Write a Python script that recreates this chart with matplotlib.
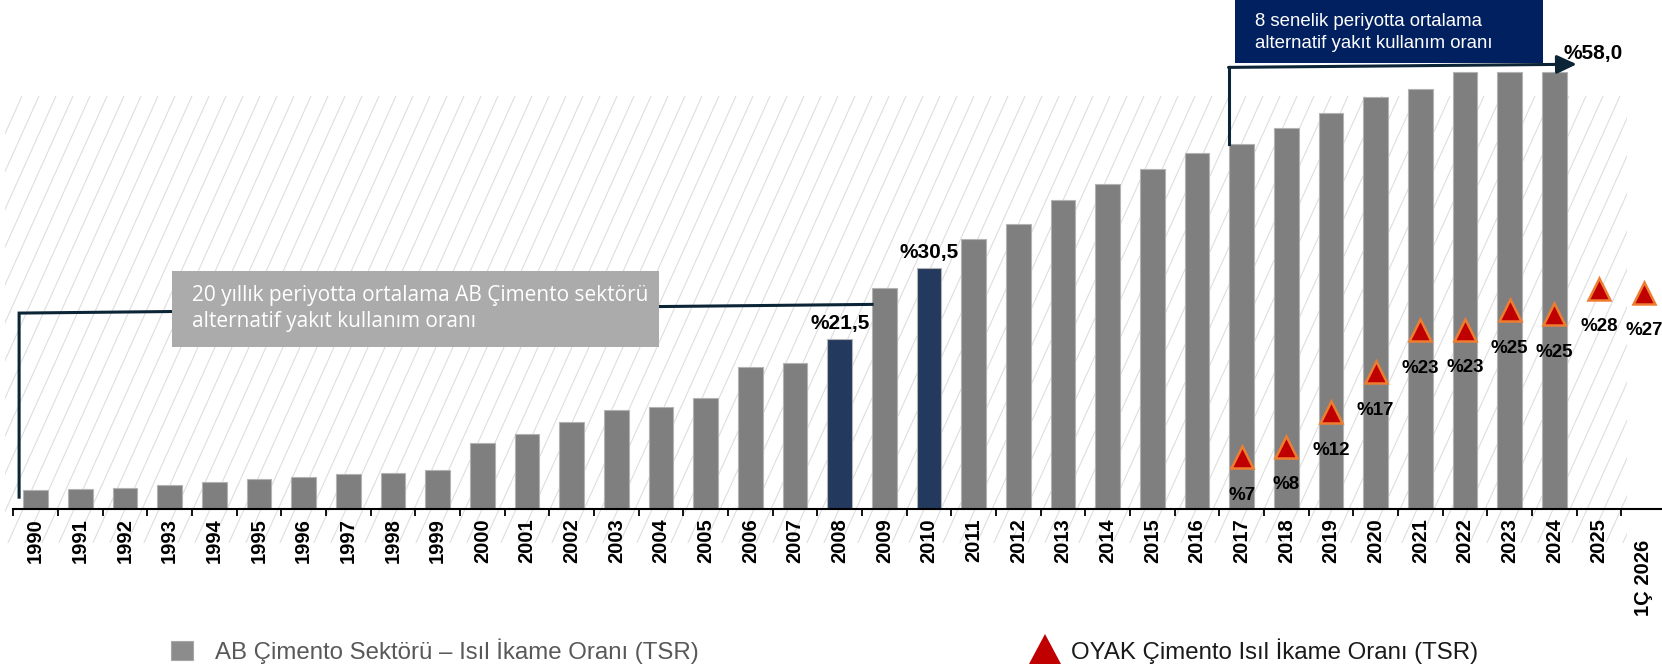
import numpy as np
import matplotlib
matplotlib.use("Agg")
import matplotlib.pyplot as plt
from matplotlib.patches import Rectangle, Polygon
from matplotlib.collections import LineCollection
from matplotlib.transforms import ScaledTranslation

plt.rcParams["font.family"] = ["Liberation Sans", "DejaVu Sans"]

# --- data -----------------------------------------------------------------
years = [str(y) for y in range(1990, 2026)] + ["1Ç 2026"]

# AB cement sector thermal substitution rate (%), 1990-2024
ab_tsr = [2.4, 2.5, 2.7, 3.1, 3.4, 3.8, 4.1, 4.4, 4.6, 4.9,
          8.4, 9.5, 11.0, 12.5, 12.9, 14.0, 18.0, 18.5, 21.5, 28.0,
          30.5, 34.2, 36.1, 39.1, 41.1, 43.1, 45.1, 46.2, 48.2, 50.1,
          52.2, 53.2, 55.3, 55.3, 55.3]
highlight_years = ["2008", "2010"]

# OYAK cement thermal substitution rate (%), 2017 - 1Q 2026
oyak_years = ["2017", "2018", "2019", "2020", "2021", "2022", "2023", "2024", "2025", "1Ç 2026"]
oyak_tsr = [6.6, 7.9, 12.3, 17.3, 22.6, 22.7, 25.2, 24.7, 27.9, 27.4]

avg_8y = 58.0

W, H = 1662, 667
fig = plt.figure(figsize=(W / 100, H / 100), dpi=100)

# background hatch (pixel coordinates)
bg = fig.add_axes([0, 0, 1, 1], zorder=0)
bg.set_xlim(0, W)
bg.set_ylim(H, 0)
bg.axis("off")
hx0, hx1, hy0, hy1 = 5, 1627, 96, 543
lean = (hy1 - hy0) * 0.45
segs = [[(x, hy1), (x + lean, hy0)] for x in np.arange(hx0 - lean, hx1 + 17, 17)]
lc = LineCollection(segs, colors="#dedede", linewidths=0.8)
bg.add_collection(lc)
clip = Rectangle((hx0, hy0), hx1 - hx0, hy1 - hy0, transform=bg.transData)
lc.set_clip_path(clip)

# main chart
px_per_unit = 7.9
base_px = 509
ax = fig.add_axes([13.3 / W, (H - base_px) / H, 37 * 44.67 / W, base_px / H], zorder=2)
ax.patch.set_alpha(0)
ax.set_xlim(-0.5, 36.5)
ax.set_ylim(0, base_px / px_per_unit)

x = np.arange(len(years))
bar_colors = ["#233a5e" if y in highlight_years else "#7f7f7f" for y in years[:len(ab_tsr)]]
ax.bar(x[:len(ab_tsr)], ab_tsr, width=0.55, color=bar_colors, edgecolor="#b3b3b3", linewidth=0.8, zorder=2)

for y in highlight_years:
    i = years.index(y)
    ax.annotate(f"%{ab_tsr[i]:.1f}".replace(".", ","), (i, ab_tsr[i]), xytext=(0, 11.5),
                textcoords="offset points", ha="center", va="center",
                fontsize=15, fontweight="bold", color="black")

ox = [years.index(y) for y in oyak_years]
ax.plot(ox, oyak_tsr, linestyle="none", marker="^", ms=15.5, mfc="#c00000", mec="#ed7d31",
        mew=1.8, zorder=4, clip_on=False)
for i, v in zip(ox, oyak_tsr):
    ax.annotate(f"%{round(v)}", (i, v), xytext=(0, -27.5), textcoords="offset points",
                ha="center", va="center", fontsize=13.5, fontweight="bold", color="black")

for s in ["left", "right", "top"]:
    ax.spines[s].set_visible(False)
ax.spines["bottom"].set_linewidth(1.5)
ax.set_yticks([])
ax.set_xticks(x)
ax.set_xticklabels(years, rotation=90, fontsize=14.5, fontweight="bold", va="top")
ax.set_xticks(np.arange(-0.5, 36, 1), minor=True)
ax.tick_params(axis="x", which="major", length=0, pad=6.5)
ax.tick_params(axis="x", which="minor", length=5, width=1.3, direction="out")
last = ax.get_xticklabels()[-1]
last.set_transform(last.get_transform() + ScaledTranslation(0, -0.22, fig.dpi_scale_trans))

# brackets
line_c = "#0b2536"
ax.plot([-0.37, -0.37, 18.725], [1.5, 24.8, 25.9], color=line_c, lw=2.2,
        solid_joinstyle="miter", clip_on=False, zorder=3)
i17 = years.index("2017")
ax.plot([i17 - 0.275, i17 - 0.275], [ab_tsr[i17], 55.9], color=line_c, lw=2.2, clip_on=False, zorder=3)
ax.annotate("", xy=(34.5, 56.3), xytext=(i17 - 0.275 - 0.02, 55.9),
            arrowprops=dict(arrowstyle="-|>,head_length=0.6,head_width=0.28", mutation_scale=20,
                            color=line_c, lw=2.2, shrinkA=0, shrinkB=0), annotation_clip=False)

# overlay (pixel coordinates) for boxes and legend
ov = fig.add_axes([0, 0, 1, 1], zorder=5)
ov.set_xlim(0, W)
ov.set_ylim(H, 0)
ov.axis("off")
ov.patch.set_alpha(0)

box_font = ["Open Sans", "DejaVu Sans"]
ov.add_patch(Rectangle((172, 271), 487, 76, fc="#ababab", ec="none"))
ov.text(192, 295, "20 yıllık periyotta ortalama AB Çimento sektörü", color="white",
        fontsize=15, family=box_font, va="center", ha="left")
ov.text(192, 321, "alternatif yakıt kullanım oranı", color="white",
        fontsize=15, family=box_font, va="center", ha="left")

ov.add_patch(Rectangle((1235, 0), 308, 63, fc="#002060", ec="none"))
ov.text(1255, 21, "8 senelik periyotta ortalama", color="white", fontsize=13.4, va="center", ha="left")
ov.text(1255, 43, "alternatif yakıt kullanım oranı", color="white", fontsize=13.4, va="center", ha="left")

ov.text(1593, 53, f"%{avg_8y:.1f}".replace(".", ","), fontsize=15, fontweight="bold",
        ha="center", va="center", color="black")

# legend
ov.add_patch(Rectangle((171, 641), 22, 19, fc="#8c8c8c", ec="#a6a6a6", lw=0.8))
ov.text(215, 651, "AB Çimento Sektörü – Isıl İkame Oranı (TSR)", color="#595959",
        fontsize=17.3, va="center", ha="left")
ov.add_patch(Polygon([(1029, 664), (1061, 664), (1045, 634)], closed=True, fc="#c00000", ec="none"))
ov.text(1071, 651, "OYAK Çimento Isıl İkame Oranı (TSR)", color="#1a1a1a",
        fontsize=17.3, va="center", ha="left")

fig.savefig("out.png", dpi=100)
